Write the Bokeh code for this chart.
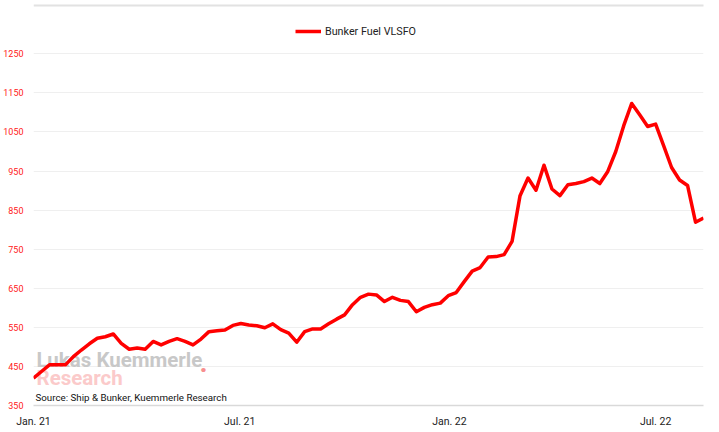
import pandas as pd
from bokeh.plotting import figure
from bokeh.models import (Range1d, FixedTicker, DatetimeTickFormatter, Legend,
                          LegendItem, Label, ColumnDataSource, BoxAnnotation)
from bokeh.embed import file_html
from bokeh.resources import INLINE

# ---- data (weekly) ----
start_date = "2021-01-01"
vlsfo = [420, 437, 454, 454, 454, 475, 492, 508, 522, 526,
         533, 509, 494, 497, 494, 514, 505, 514, 521, 514,
         505, 520, 539, 541, 543, 555, 560, 556, 554, 549,
         559, 544, 535, 512, 539, 546, 546, 559, 571, 582,
         608, 627, 635, 633, 616, 627, 619, 616, 590, 601,
         608, 612, 631, 639, 667, 694, 703, 730, 731, 736,
         770, 887, 932, 901, 965, 904, 887, 915, 918, 923,
         932, 918, 949, 1000, 1066, 1123, 1094, 1064, 1070, 1015,
         959, 927, 913, 819, 830]
dates = pd.date_range(start_date, periods=len(vlsfo), freq="7D")
x_tick_dates = ["2021-01-01", "2021-07-01", "2022-01-01", "2022-07-01"]
y_ticks = [350, 450, 550, 650, 750, 850, 950, 1050, 1150, 1250]
series_name = "Bunker Fuel VLSFO"
source_text = "Source: Ship & Bunker, Kuemmerle Research"
wm_line1 = "Lukas Kuemmerle"
wm_dot = "."
wm_line2 = "Research"

src = ColumnDataSource(dict(date=dates, value=vlsfo))

FONT = "Roboto"
W, H = 719, 432
FRAME_H = 405            # frame spans from canvas top to the x axis
TOP_TICK_PX = 53.3       # canvas y of the highest gridline
y_top = y_ticks[-1] + (y_ticks[-1] - y_ticks[0]) * TOP_TICK_PX / (FRAME_H - TOP_TICK_PX)

p = figure(width=W, height=H, x_axis_type="datetime",
           output_backend="svg", toolbar_location=None,
           x_range=Range1d(dates[0], dates[-1]),
           y_range=Range1d(y_ticks[0], y_top),
           min_border_left=32, min_border_right=16,
           min_border_top=0, min_border_bottom=H - FRAME_H)
p.outline_line_color = None
p.background_fill_color = "white"
p.border_fill_color = "white"

# thin grey rule near the top of the picture
p.add_layout(BoxAnnotation(left=0, right=W, top=FRAME_H - 4, bottom=FRAME_H - 6,
                           left_units="screen", right_units="screen",
                           top_units="screen", bottom_units="screen",
                           fill_color="#e2e2e2", fill_alpha=1, line_color=None))

# axes
p.xaxis.ticker = FixedTicker(ticks=[pd.Timestamp(d).value / 1e6 for d in x_tick_dates])
fmt = "%b. %y"
p.xaxis.formatter = DatetimeTickFormatter(years=fmt, months=fmt, days=fmt, hours=fmt,
                                          minutes=fmt, seconds=fmt, milliseconds=fmt,
                                          microseconds=fmt, hourmin=fmt, minsec=fmt)
p.xaxis.axis_line_color = "#d9d9d9"
p.xaxis.axis_line_width = 1.5
p.xaxis.major_tick_line_color = None
p.xaxis.major_tick_out = 0
p.xaxis.major_tick_in = 0
p.xaxis.minor_tick_line_color = None
p.xaxis.major_label_text_font = FONT
p.xaxis.major_label_text_font_size = "10.5px"
p.xaxis.major_label_text_color = "#222222"
p.xaxis.major_label_standoff = 9

p.yaxis.ticker = FixedTicker(ticks=y_ticks)
p.yaxis.axis_line_color = None
p.yaxis.major_tick_line_color = None
p.yaxis.major_tick_out = 0
p.yaxis.major_tick_in = 0
p.yaxis.minor_tick_line_color = None
p.yaxis.major_label_text_font = FONT
p.yaxis.major_label_text_font_size = "9px"
p.yaxis.major_label_text_color = "#ff2020"
p.yaxis.major_label_standoff = 10

p.xgrid.grid_line_color = None
p.ygrid.grid_line_color = "#efefef"
p.ygrid.grid_line_width = 1

# watermark (under the line)
p.add_layout(Label(x=3, y=34, x_units="screen", y_units="screen", text=wm_line1,
                   text_font=FONT, text_font_style="bold", text_font_size="20.5px",
                   text_color="#c8c8c8", level="underlay"))
p.add_layout(Label(x=166, y=34, x_units="screen", y_units="screen", text=wm_dot,
                   text_font=FONT, text_font_style="bold", text_font_size="28px",
                   text_color="#f78f8f", level="underlay"))
p.add_layout(Label(x=3, y=16, x_units="screen", y_units="screen", text=wm_line2,
                   text_font=FONT, text_font_style="bold", text_font_size="20.5px",
                   text_color="#fbcaca", level="underlay"))

line = p.line("date", "value", source=src, line_color="#ff0000", line_width=3.5,
              line_join="round")

# source note
p.add_layout(Label(x=2, y=3, x_units="screen", y_units="screen", text=source_text,
                   text_font=FONT, text_font_size="9.75px", text_color="#111111"))

legend = Legend(items=[LegendItem(label=series_name, renderers=[line])],
                location=(262, FRAME_H - 38), orientation="horizontal")
legend.border_line_color = None
legend.background_fill_alpha = 0
legend.padding = 0
legend.margin = 0
legend.glyph_width = 26
legend.glyph_height = 14
legend.label_height = 14
legend.label_standoff = 4
legend.label_text_font = FONT
legend.label_text_font_size = "10.75px"
legend.label_text_color = "#222222"
p.add_layout(legend, "center")

open("out.html", "w").write(file_html(p, INLINE))
